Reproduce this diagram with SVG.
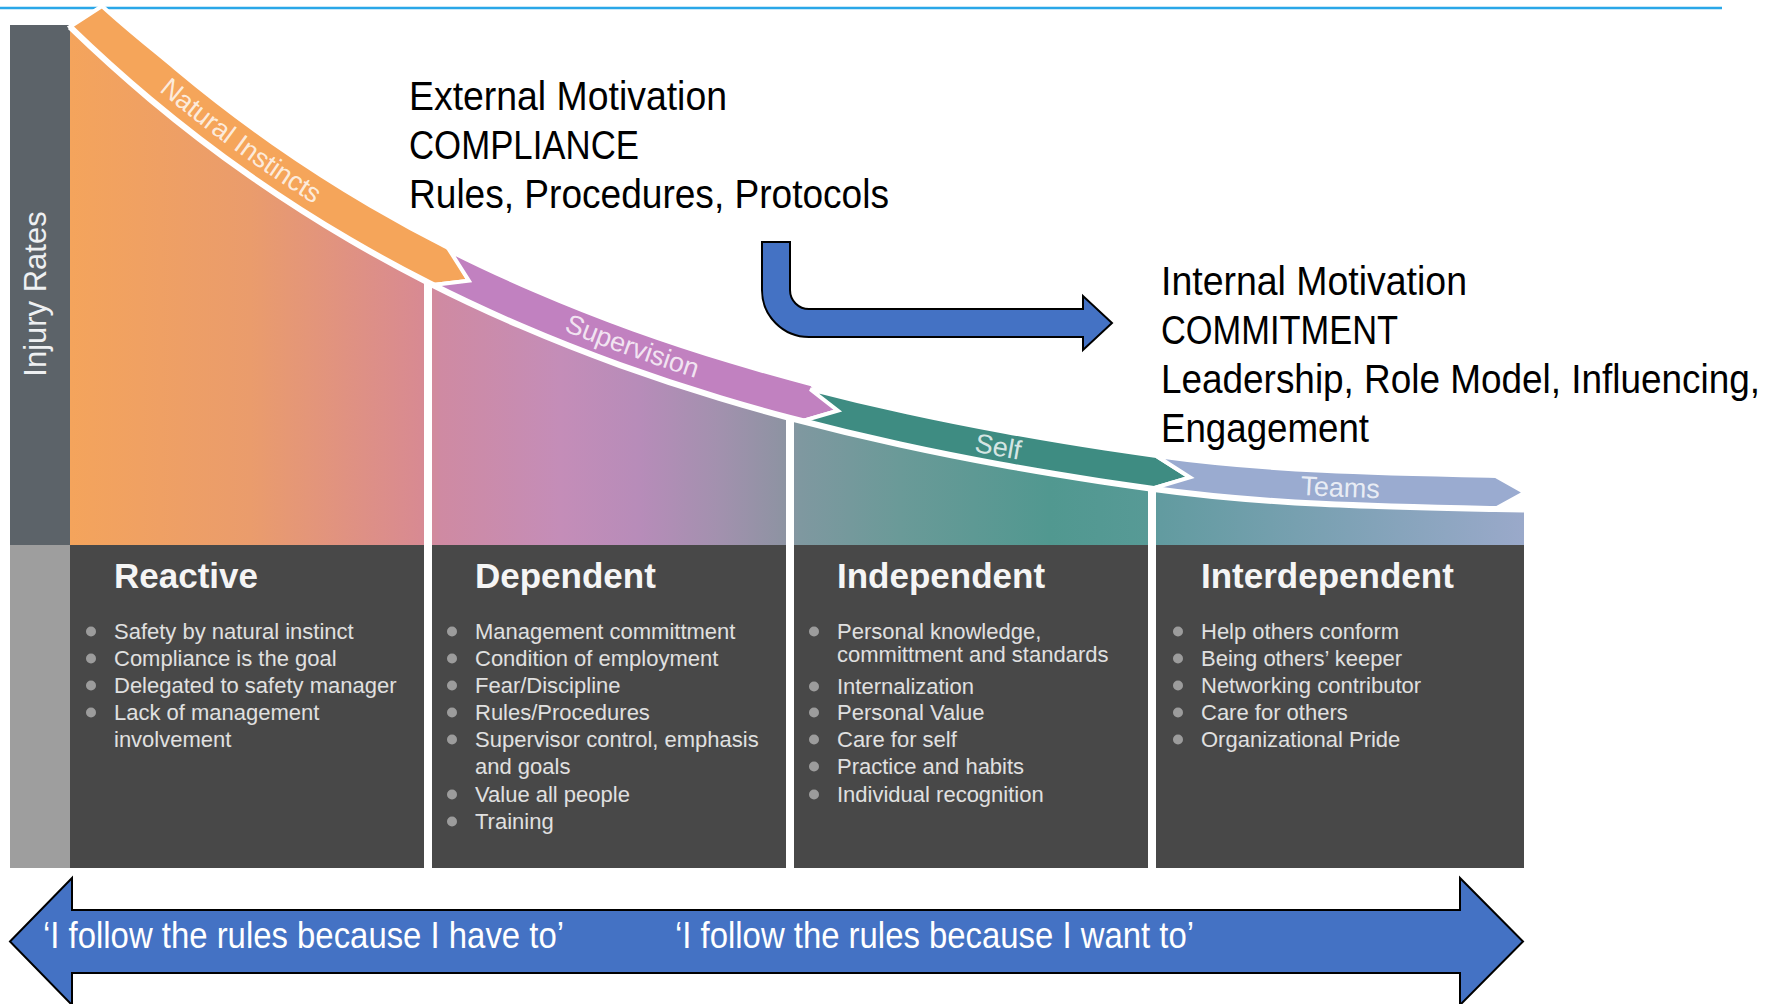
<svg xmlns="http://www.w3.org/2000/svg" width="1780" height="1004" viewBox="0 0 1780 1004">
  <defs>
    <style>
      .sans { font-family: "Liberation Sans", Arial, sans-serif; }
      .band { stroke: #ffffff; stroke-width: 4; stroke-linejoin: miter; }
      .band-label { font-family: "Liberation Sans", Arial, sans-serif; font-size: 27px; fill: #ffffff; fill-opacity: 0.8; }
      .rim { fill: none; stroke: #ffffff; stroke-width: 6; }
      .divider { fill: #ffffff; }
      .panel { fill: #484848; }
      .title { font-family: "Liberation Sans", Arial, sans-serif; font-weight: bold; font-size: 35px; fill: #f5f5f5; }
      .item { font-family: "Liberation Sans", Arial, sans-serif; font-size: 22px; fill: #e0e0e0; }
      .dot { fill: #9c9c9c; }
      .note { font-family: "Liberation Sans", Arial, sans-serif; font-size: 40px; fill: #000000; }
      .blue-arrow { fill: #4472c4; stroke: #000000; stroke-width: 2; stroke-linejoin: miter; }
      .caption { font-family: "Liberation Sans", Arial, sans-serif; font-size: 37px; fill: #ffffff; }
    </style>
    <linearGradient id="areaFill" gradientUnits="userSpaceOnUse" x1="70" y1="0" x2="1524" y2="0">
      <stop offset="0" stop-color="#f4a45c"/>
      <stop offset="0.124" stop-color="#ea9c6c"/>
      <stop offset="0.241" stop-color="#d88a92"/>
      <stop offset="0.254" stop-color="#cf8aa2"/>
      <stop offset="0.337" stop-color="#c48db8"/>
      <stop offset="0.392" stop-color="#b78cb9"/>
      <stop offset="0.447" stop-color="#a291ae"/>
      <stop offset="0.492" stop-color="#8d93a2"/>
      <stop offset="0.502" stop-color="#7f98a0"/>
      <stop offset="0.571" stop-color="#6a9a98"/>
      <stop offset="0.674" stop-color="#519890"/>
      <stop offset="0.741" stop-color="#579a96"/>
      <stop offset="0.75" stop-color="#629ba0"/>
      <stop offset="0.88" stop-color="#7fa2b6"/>
      <stop offset="1" stop-color="#9aa9ca"/>
    </linearGradient>
    <!-- decay curve: top of the injury-rate area, bottom of the bands -->
    <path id="curve" d="M70,26.9 C96.7,52.7 123.3,76.75 150,99.1 C183.3,127 216.7,152.5 250,175.8 C283.3,199.1 316.7,220.4 350,239.9 C376.3,255.3 402.7,269.6 429,283 C459.3,298.4 489.7,312.5 520,325.6 C553.3,340 586.7,353.1 620,365.1 C653.3,377.1 686.7,388.1 720,398.1 C743.3,405.1 766.7,411.8 790,418 C826.7,427.7 863.3,436.5 900,444.5 C933.3,451.8 966.7,458.4 1000,464.5 C1033.3,470.6 1066.7,476.1 1100,481.2 C1117.3,483.8 1134.7,486.3 1152,488.7 C1266.3,504.6 1380.7,506.7 1495,509 L1524,509.5"/>
  </defs>

  <rect x="0" y="0" width="1780" height="1004" fill="#ffffff"/>

  <!-- top rule -->
  <line x1="0" y1="8" x2="1722" y2="8" stroke="#2aa7e8" stroke-width="2.5"/>

  <!-- vertical axis -->
  <g id="axis">
    <rect x="10" y="25" width="60" height="520" fill="#5c6369"/>
    <rect x="10" y="545" width="60" height="323" fill="#9e9e9e"/>
    <text class="sans" transform="translate(46,294) rotate(-90)" text-anchor="middle" font-size="31" fill="#eef0f2">Injury Rates</text>
  </g>

  <!-- area under the curve -->
  <g id="rate-area">
    <path fill="url(#areaFill)" d="M70,26.9 C96.7,52.7 123.3,76.75 150,99.1 C183.3,127 216.7,152.5 250,175.8 C283.3,199.1 316.7,220.4 350,239.9 C376.3,255.3 402.7,269.6 429,283 C459.3,298.4 489.7,312.5 520,325.6 C553.3,340 586.7,353.1 620,365.1 C653.3,377.1 686.7,388.1 720,398.1 C743.3,405.1 766.7,411.8 790,418 C826.7,427.7 863.3,436.5 900,444.5 C933.3,451.8 966.7,458.4 1000,464.5 C1033.3,470.6 1066.7,476.1 1100,481.2 C1117.3,483.8 1134.7,486.3 1152,488.7 C1266.3,504.6 1380.7,506.7 1495,509 L1524,509.5 L1524,545 L70,545 Z"/>
  </g>

  <!-- chevron bands along the curve -->
  <g id="band-natural-instincts">
    <path class="band" fill="#f5a55a" d="M70,26.9 L102,6 C126.6,28.8 151.1,47.8 175.7,68.4 C208.1,95.55 240.5,120.3 272.9,143 C305.3,165.7 337.8,186.4 370.2,205.4 C397.1,221.15 424.1,235.8 451,249.4 L468.8,280.7 L433,285.1 C405.3,271.15 377.7,256.1 350,239.9 C316.7,220.4 283.3,199.1 250,175.8 C216.7,152.5 183.3,127 150,99.1 C123.3,76.75 96.7,52.7 70,26.9 Z"/>
  </g>
  <g id="band-supervision">
    <path class="band" fill="#c181c0" d="M433,285.1 L468.8,280.7 L450.1,251.2 C478.4,265.5 506.8,278.5 535.1,290.7 C567.7,304.8 600.3,317.6 632.9,329.35 C665.6,341.1 698.3,351.8 731,361.7 C757.9,369.8 784.7,377.3 811.6,384.3 L837.8,410.75 L802,421.1 C774.7,414 747.3,406.3 720,398.1 C686.7,388.05 653.3,377.1 620,365.1 C586.7,353.1 553.3,340 520,325.6 C491,313.1 462,299.7 433,285.1 Z"/>
  </g>
  <g id="band-self">
    <path class="band" fill="#3e8c82" d="M802,421.1 L837.8,410.75 L810.3,389.2 C842.5,397.6 874.8,405.3 907,412.3 C940,419.5 972.9,426 1005.9,432 C1038.9,438 1072,443.6 1105,448.6 C1122.2,451.2 1139.3,453.6 1156.5,456 L1189.9,477.3 L1152,488.7 C1134.7,486.3 1117.3,483.8 1100,481.2 C1066.7,476.1 1033.3,470.6 1000,464.5 C966.7,458.4 933.3,451.8 900,444.5 C867.3,437.4 834.7,429.6 802,421.1 Z"/>
  </g>
  <g id="band-teams">
    <path class="band" fill="#9aabd0" d="M1152,488.7 L1189.9,477.3 L1156.5,456 C1269.5,471.7 1382.7,473.7 1495.7,476 L1525,492.5 L1495,509 C1380.7,506.7 1266.3,504.6 1152,488.7 Z"/>
  </g>

  <use href="#curve" class="rim"/>

  <!-- band labels follow the curve -->
  <g id="band-labels">
    <text class="band-label" dy="-12"><textPath href="#curve" startOffset="206" text-anchor="middle">Natural Instincts</textPath></text>
    <text class="band-label" dy="-12"><textPath href="#curve" startOffset="656" text-anchor="middle">Supervision</textPath></text>
    <text class="band-label" dy="-8"><textPath href="#curve" startOffset="1039" text-anchor="middle">Self</textPath></text>
    <text class="band-label" dy="-8"><textPath href="#curve" startOffset="1386" text-anchor="middle">Teams</textPath></text>
  </g>

  <!-- stage columns -->
  <g id="stage-reactive">
    <rect class="panel" x="70" y="545" width="354" height="323"/>
    <text class="title" x="114" y="588">Reactive</text>
    <circle class="dot" cx="91" cy="631.5" r="5"/>
    <circle class="dot" cx="91" cy="658.5" r="5"/>
    <circle class="dot" cx="91" cy="685.5" r="5"/>
    <circle class="dot" cx="91" cy="712.5" r="5"/>
    <text class="item" x="114" y="639">Safety by natural instinct</text>
    <text class="item" x="114" y="666">Compliance is the goal</text>
    <text class="item" x="114" y="693">Delegated to safety manager</text>
    <text class="item" x="114" y="720">Lack of management</text>
    <text class="item" x="114" y="747">involvement</text>
  </g>

  <g id="stage-dependent">
    <rect class="panel" x="432" y="545" width="354" height="323"/>
    <text class="title" x="475" y="588">Dependent</text>
    <circle class="dot" cx="452" cy="631.5" r="5"/>
    <circle class="dot" cx="452" cy="658.5" r="5"/>
    <circle class="dot" cx="452" cy="685.5" r="5"/>
    <circle class="dot" cx="452" cy="712.5" r="5"/>
    <circle class="dot" cx="452" cy="739.5" r="5"/>
    <circle class="dot" cx="452" cy="794.5" r="5"/>
    <circle class="dot" cx="452" cy="821.5" r="5"/>
    <text class="item" x="475" y="639">Management committment</text>
    <text class="item" x="475" y="666">Condition of employment</text>
    <text class="item" x="475" y="693">Fear/Discipline</text>
    <text class="item" x="475" y="720">Rules/Procedures</text>
    <text class="item" x="475" y="747">Supervisor control, emphasis</text>
    <text class="item" x="475" y="774">and goals</text>
    <text class="item" x="475" y="802">Value all people</text>
    <text class="item" x="475" y="829">Training</text>
  </g>

  <g id="stage-independent">
    <rect class="panel" x="794" y="545" width="354" height="323"/>
    <text class="title" x="837" y="588">Independent</text>
    <circle class="dot" cx="814" cy="631.5" r="5"/>
    <circle class="dot" cx="814" cy="686.5" r="5"/>
    <circle class="dot" cx="814" cy="712.5" r="5"/>
    <circle class="dot" cx="814" cy="739.5" r="5"/>
    <circle class="dot" cx="814" cy="766.5" r="5"/>
    <circle class="dot" cx="814" cy="794.5" r="5"/>
    <text class="item" x="837" y="639">Personal knowledge,</text>
    <text class="item" x="837" y="662">committment and standards</text>
    <text class="item" x="837" y="694">Internalization</text>
    <text class="item" x="837" y="720">Personal Value</text>
    <text class="item" x="837" y="747">Care for self</text>
    <text class="item" x="837" y="774">Practice and habits</text>
    <text class="item" x="837" y="802">Individual recognition</text>
  </g>

  <g id="stage-interdependent">
    <rect class="panel" x="1156" y="545" width="368" height="323"/>
    <text class="title" x="1201" y="588">Interdependent</text>
    <circle class="dot" cx="1178" cy="631.5" r="5"/>
    <circle class="dot" cx="1178" cy="658.5" r="5"/>
    <circle class="dot" cx="1178" cy="685.5" r="5"/>
    <circle class="dot" cx="1178" cy="712.5" r="5"/>
    <circle class="dot" cx="1178" cy="739.5" r="5"/>
    <text class="item" x="1201" y="639">Help others conform</text>
    <text class="item" x="1201" y="666">Being others’ keeper</text>
    <text class="item" x="1201" y="693">Networking contributor</text>
    <text class="item" x="1201" y="720">Care for others</text>
    <text class="item" x="1201" y="747">Organizational Pride</text>
  </g>

  <!-- white separators between stages, from the curve down -->
  <g id="dividers">
    <rect class="divider" x="424" y="282" width="8" height="586"/>
    <rect class="divider" x="786" y="417" width="8" height="451"/>
    <rect class="divider" x="1148" y="487" width="8" height="381"/>
  </g>

  <!-- motivation notes -->
  <g id="note-external">
    <text class="note" x="409" y="110" textLength="318" lengthAdjust="spacingAndGlyphs">External Motivation</text>
    <text class="note" x="409" y="159" textLength="230" lengthAdjust="spacingAndGlyphs">COMPLIANCE</text>
    <text class="note" x="409" y="208" textLength="480" lengthAdjust="spacingAndGlyphs">Rules, Procedures, Protocols</text>
  </g>
  <g id="note-internal">
    <text class="note" x="1161" y="295" textLength="306" lengthAdjust="spacingAndGlyphs">Internal Motivation</text>
    <text class="note" x="1161" y="344" textLength="237" lengthAdjust="spacingAndGlyphs">COMMITMENT</text>
    <text class="note" x="1161" y="393" font-size="37" textLength="599" lengthAdjust="spacingAndGlyphs">Leadership, Role Model, Influencing,</text>
    <text class="note" x="1161" y="442" textLength="208" lengthAdjust="spacingAndGlyphs">Engagement</text>
  </g>

  <!-- connectors -->
  <g id="connectors">
    <path id="bent-arrow" class="blue-arrow" d="M762,242 L790,242 L790,290 A19,19 0 0 0 809,309 L1083,309 L1083,296 L1112,323 L1083,350 L1083,337 L809,337 A47,47 0 0 1 762,290 Z"/>
    <path id="double-arrow" class="blue-arrow" d="M10,941.5 L72,878 L72,910 L1460,910 L1460,878 L1523,941.5 L1460,1005 L1460,973 L72,973 L72,1005 Z"/>
    <text class="caption" x="43" y="948" textLength="521" lengthAdjust="spacingAndGlyphs">‘I follow the rules because I have to’</text>
    <text class="caption" x="675" y="948" textLength="519" lengthAdjust="spacingAndGlyphs">‘I follow the rules because I want to’</text>
  </g>
</svg>
